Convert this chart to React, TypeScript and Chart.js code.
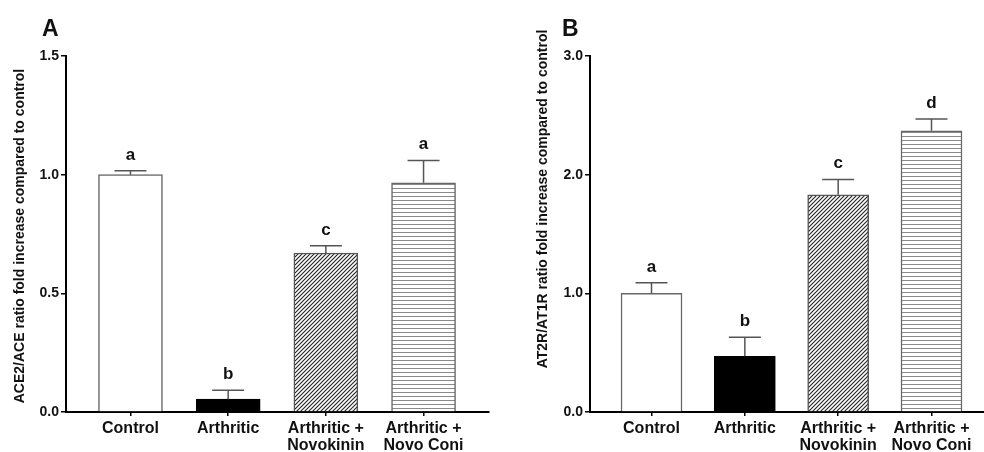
import React, { useEffect, useRef } from 'react';
import { Chart, registerables } from 'chart.js';
Chart.register(...registerables);

const categories: string[][] = [['Control'], ['Arthritic'], ['Arthritic +', 'Novokinin'], ['Arthritic +', 'Novo Coni']];
const valuesA = [1.0, 0.054, 0.67, 0.966];
const errorsA = [0.016, 0.038, 0.031, 0.094];
const lettersA = ['a', 'b', 'c', 'a'];
const ticksA = [0, 0.5, 1.0, 1.5];
const valuesB = [1.0, 0.47, 1.83, 2.37];
const errorsB = [0.09, 0.16, 0.13, 0.1];
const lettersB = ['a', 'b', 'c', 'd'];
const ticksB = [0, 1, 2, 3];
const titleA = 'ACE2/ACE ratio fold increase compared to control';
const titleB = 'AT2R/AT1R ratio fold increase compared to control';

const FONT = "'Liberation Sans', Arial, Helvetica, sans-serif";

function diagPattern(ctx: CanvasRenderingContext2D) {
  const c = document.createElement('canvas');
  c.width = 4; c.height = 4;
  const g = c.getContext('2d')!;
  g.fillStyle = '#fff'; g.fillRect(0, 0, 4, 4);
  g.strokeStyle = '#222'; g.lineWidth = 1.1;
  g.beginPath();
  g.moveTo(0, 4); g.lineTo(4, 0);
  g.moveTo(-1, 1); g.lineTo(1, -1);
  g.moveTo(3, 5); g.lineTo(5, 3);
  g.stroke();
  return ctx.createPattern(c, 'repeat')!;
}

function horizPattern(ctx: CanvasRenderingContext2D) {
  const c = document.createElement('canvas');
  c.width = 4; c.height = 4;
  const g = c.getContext('2d')!;
  g.fillStyle = '#fff'; g.fillRect(0, 0, 4, 4);
  g.fillStyle = '#8a8a8a'; g.fillRect(0, 0, 4, 1);
  return ctx.createPattern(c, 'repeat')!;
}

type Panel = {
  values: number[]; errors: number[]; letters: string[]; ticks: number[];
  yMax: number; xMin: number; xMax: number; barThickness: number;
  yWidth: number; padRight: number; title: string; titleX: number; titleY: number;
  panel: string; panelX: number;
};

function makeChart(canvas: HTMLCanvasElement, p: Panel) {
  const ctx = canvas.getContext('2d')!;
  const fills = ['#ffffff', '#000000', diagPattern(ctx), horizPattern(ctx)];
  const borders = ['#666', '#000', '#555', '#666'];
  const annot = {
    id: 'annot',
    afterDatasetsDraw(chart: any) {
      const c = chart.ctx;
      const xs = chart.scales.x; const ys = chart.scales.y;
      c.save();
      p.values.forEach((v, i) => {
        const x = xs.getPixelForValue(i);
        const y0 = ys.getPixelForValue(v);
        const y1 = ys.getPixelForValue(v + p.errors[i]);
        c.strokeStyle = '#555'; c.lineWidth = 1.5;
        c.beginPath();
        c.moveTo(x, y0); c.lineTo(x, y1);
        c.moveTo(x - 16, y1); c.lineTo(x + 16, y1);
        c.stroke();
        c.fillStyle = '#111';
        c.font = `bold 17px ${FONT}`;
        c.textAlign = 'center'; c.textBaseline = 'alphabetic';
        c.fillText(p.letters[i], x, y1 - 11);
      });
      c.fillStyle = '#111';
      c.font = `bold 23px ${FONT}`;
      c.textAlign = 'left'; c.textBaseline = 'alphabetic';
      c.fillText(p.panel, p.panelX, 36);
      c.translate(p.titleX, p.titleY);
      c.rotate(-Math.PI / 2);
      c.font = `bold 14px ${FONT}`;
      c.textAlign = 'center'; c.textBaseline = 'middle';
      c.fillText(p.title, 0, 0);
      c.restore();
    },
  };
  return new Chart(canvas, {
    type: 'bar',
    data: {
      datasets: [{
        data: p.values.map((v, i) => ({ x: i, y: v })),
        backgroundColor: fills as any,
        borderColor: borders,
        borderWidth: 1.5,
        barThickness: p.barThickness,
      } as any],
    },
    options: {
      responsive: false,
      animation: false,
      layout: { padding: { top: 56, right: p.padRight, left: 0, bottom: 0 } },
      plugins: { legend: { display: false }, tooltip: { enabled: false } },
      scales: {
        x: {
          type: 'linear', min: p.xMin, max: p.xMax, offset: false,
          afterBuildTicks: (s: any) => { s.ticks = categories.map((_, i) => ({ value: i })); },
          afterFit: (s: any) => { s.height = 40; },
          ticks: {
            callback: (v: any) => categories[Math.round(Number(v))] ?? '',
            color: '#111', padding: 4, maxRotation: 0, autoSkip: false,
            font: { family: FONT, size: 16, weight: 'bold', lineHeight: 1.05 },
          },
          grid: { offset: false, drawOnChartArea: false, drawTicks: true, tickLength: 4, color: '#000', lineWidth: 1.5 },
          border: { display: true, color: '#000', width: 2 },
        },
        y: {
          min: 0, max: p.yMax,
          afterBuildTicks: (s: any) => { s.ticks = p.ticks.map((v) => ({ value: v })); },
          afterFit: (s: any) => { s.width = p.yWidth; },
          ticks: {
            callback: (v: any) => Number(v).toFixed(1),
            color: '#111', padding: 2,
            font: { family: FONT, size: 14, weight: 'bold' },
          },
          grid: { drawOnChartArea: false, drawTicks: true, tickLength: 5, color: '#000', lineWidth: 1.5 },
          border: { display: true, color: '#000', width: 2 },
        },
      },
    } as any,
    plugins: [annot],
  });
}

export default function App() {
  const refA = useRef<HTMLCanvasElement>(null);
  const refB = useRef<HTMLCanvasElement>(null);
  useEffect(() => {
    const a = makeChart(refA.current!, {
      values: valuesA, errors: errorsA, letters: lettersA, ticks: ticksA,
      yMax: 1.5, xMin: -0.66, xMax: 3.67, barThickness: 64, yWidth: 66, padRight: 3,
      title: titleA, titleX: 20, titleY: 236, panel: 'A', panelX: 42,
    });
    const b = makeChart(refB.current!, {
      values: valuesB, errors: errorsB, letters: lettersB, ticks: ticksB,
      yMax: 3, xMin: -0.659, xMax: 3.5625, barThickness: 61, yWidth: 98, padRight: 0,
      title: titleB, titleX: 51, titleY: 199, panel: 'B', panelX: 70,
    });
    return () => { a.destroy(); b.destroy(); };
  }, []);
  return (
    <div style={{ position: 'absolute', left: 0, top: 0, width: 984, height: 452, background: '#fff', overflow: 'hidden' }}>
      <canvas ref={refA} width={492} height={452} style={{ position: 'absolute', left: 0, top: 0, width: 492, height: 452 }} />
      <canvas ref={refB} width={492} height={452} style={{ position: 'absolute', left: 492, top: 0, width: 492, height: 452 }} />
    </div>
  );
}
